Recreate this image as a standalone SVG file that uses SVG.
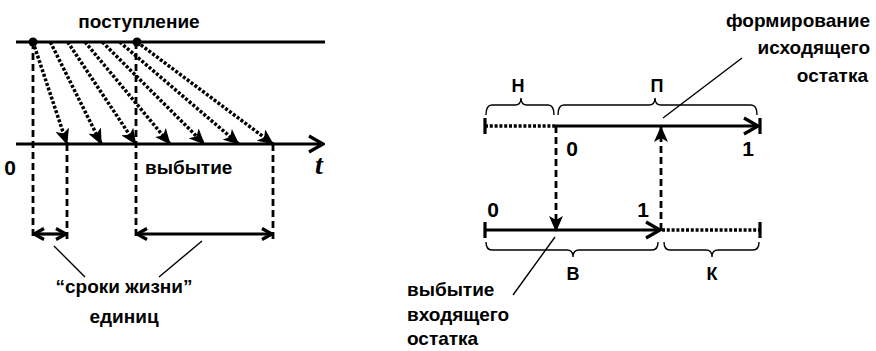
<svg xmlns="http://www.w3.org/2000/svg" width="876" height="351" viewBox="0 0 876 351">
<defs>
<marker id="fa" markerUnits="userSpaceOnUse" markerWidth="16" markerHeight="14" viewBox="0 0 16 14" refX="15" refY="7" orient="auto">
<path d="M0,0 L16,7 L0,14 L4,7 z" fill="#000"/>
</marker>
<marker id="va" markerUnits="userSpaceOnUse" markerWidth="18" markerHeight="20" viewBox="0 0 18 20" refX="16" refY="10" orient="auto">
<path d="M2,2 L16,10 L2,18" fill="none" stroke="#000" stroke-width="3.2"/>
</marker>
<marker id="vs" markerUnits="userSpaceOnUse" markerWidth="12" markerHeight="14" viewBox="0 0 12 14" refX="11" refY="7" orient="auto-start-reverse">
<path d="M1,1.5 L11,7 L1,12.5" fill="none" stroke="#000" stroke-width="3.2"/>
</marker>
</defs>
<style>
.t{font-family:"Liberation Sans",Arial,sans-serif;font-weight:bold;fill:#000}
.ax{stroke:#000;stroke-width:3.2;fill:none}
.dot{stroke:#000;stroke-width:3.5;fill:none;stroke-dasharray:3 1.8}
.dash{stroke:#000;stroke-width:2.8;fill:none;stroke-dasharray:7 4}
.thin{stroke:#000;stroke-width:1.4;fill:none}
</style>
<g id="connectors">
<path class="ax" d="M16 42 H325"/>
<path class="ax" d="M16 144 H323" marker-end="url(#va)"/>
<g class="dot" marker-end="url(#fa)">
<path d="M33 42 L67 144"/>
<path d="M50.3 42 L101.3 144"/>
<path d="M67.7 42 L135.7 144"/>
<path d="M85 42 L170 144"/>
<path d="M102.3 42 L204.3 144"/>
<path d="M119.7 42 L238.7 144"/>
<path d="M137 42 L273 144"/>
</g>
<path class="dash" d="M33 42 V240 M67 144 V240 M136 42 V240 M273 144 V240"/>
<path class="ax" d="M34 234 H66" marker-start="url(#vs)" marker-end="url(#vs)"/>
<path class="ax" d="M137 234 H272" marker-start="url(#vs)" marker-end="url(#vs)"/>
<path class="thin" d="M54 246 L85 277 M202 241 L159 277"/>
<path class="dot" d="M485 126 H555"/>
<path class="ax" d="M555 126 H758" marker-end="url(#va)"/>
<path class="ax" d="M485 118 V134 M760 118 V134"/>
<path class="ax" d="M485 230 H660" marker-end="url(#va)"/>
<path class="dot" d="M662 230 H759"/>
<path class="ax" d="M485 222 V238 M760 222 V238"/>
<path class="dash" d="M556 126 V231" marker-end="url(#fa)"/>
<path class="dash" d="M661 230 V127" marker-end="url(#fa)"/>
<path class="thin" d="M486 115 Q486 105 492 105 H515 Q521 105 521 98 Q521 105 527 105 H548 Q554 105 554 115"/>
<path class="thin" d="M558 115 Q558 105 564 105 H649 Q655 105 655 98 Q655 105 661 105 H751 Q757 105 757 115"/>
<path class="thin" d="M486 242 Q486 250 492 250 H567 Q573 250 573 257 Q573 250 579 250 H652 Q658 250 658 242"/>
<path class="thin" d="M664 242 Q664 250 670 250 H706 Q712 250 712 257 Q712 250 718 250 H753 Q759 250 759 242"/>
<path class="thin" d="M663 118 L742 58 M555 237 L513 295"/>
</g>
<g id="dots">
<circle cx="33" cy="42" r="4.5" fill="#000"/>
<circle cx="137" cy="42" r="4.5" fill="#000"/>
</g>
<g id="labels-left">
<text class="t" x="139" y="28" font-size="19" text-anchor="middle">поступление</text>
<text class="t" x="10" y="175" font-size="21" text-anchor="middle">0</text>
<text class="t" x="145" y="174" font-size="19">выбытие</text>
<text x="319" y="174" font-size="28" font-weight="bold" text-anchor="middle" font-family="Liberation Serif,serif" font-style="italic">t</text>
<text class="t" x="124" y="293" font-size="19" text-anchor="middle">“сроки жизни”</text>
<text class="t" x="124" y="323" font-size="19" text-anchor="middle">единиц</text>
</g>
<g id="labels-right">
<text class="t" x="518" y="92" font-size="18" text-anchor="middle">Н</text>
<text class="t" x="657" y="92" font-size="18" text-anchor="middle">П</text>
<text class="t" x="572" y="156" font-size="21" text-anchor="middle">0</text>
<text class="t" x="748" y="156" font-size="21" text-anchor="middle">1</text>
<text class="t" x="493" y="217" font-size="21" text-anchor="middle">0</text>
<text class="t" x="643" y="217" font-size="21" text-anchor="middle">1</text>
<text class="t" x="573" y="280" font-size="18" text-anchor="middle">В</text>
<text class="t" x="712" y="280" font-size="18" text-anchor="middle">К</text>
<text class="t" x="870" y="27" font-size="19" text-anchor="end">формирование</text>
<text class="t" x="870" y="54" font-size="19" text-anchor="end">исходящего</text>
<text class="t" x="868" y="82" font-size="19" text-anchor="end">остатка</text>
<text class="t" x="407" y="296" font-size="19">выбытие</text>
<text class="t" x="407" y="321" font-size="19">входящего</text>
<text class="t" x="407" y="345" font-size="19">остатка</text>
</g>
</svg>
